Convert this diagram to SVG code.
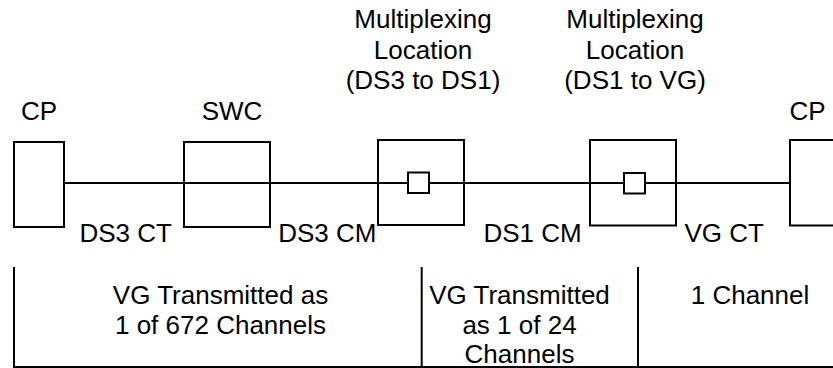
<svg xmlns="http://www.w3.org/2000/svg" width="833" height="368" viewBox="0 0 833 368">
<style>
  .box { fill: #ffffff; stroke: #000000; stroke-width: 2; }
  .ln { fill: none; stroke: #000000; stroke-width: 2; }
  text { font-family: "Liberation Sans", Arial, sans-serif; font-size: 26px; fill: #000000; }
  .c { text-anchor: middle; }
</style>
<rect width="833" height="368" fill="#ffffff"/>
<g id="connectors">
  <line class="ln" x1="64" y1="183" x2="408" y2="183"/>
  <line class="ln" x1="429" y1="183" x2="624" y2="183"/>
  <line class="ln" x1="645" y1="183" x2="790" y2="183"/>
</g>
<g id="cp-left">
  <rect class="box" x="14" y="142" width="50" height="85"/>
  <text class="c" x="39" y="120">CP</text>
</g>
<g id="swc">
  <rect class="box" x="184" y="142" width="86" height="85" fill="none" style="fill:none"/>
  <text class="c" x="232" y="119.5">SWC</text>
</g>
<g id="mux1">
  <rect class="box" x="378" y="140" width="86" height="85" style="fill:none"/>
  <rect class="box" x="408" y="172.5" width="21" height="20.5"/>
  <text class="c" x="423" y="28">Multiplexing</text>
  <text class="c" x="423" y="58.5">Location</text>
  <text class="c" x="423" y="88.5">(DS3 to DS1)</text>
</g>
<g id="mux2">
  <rect class="box" x="590" y="140" width="86" height="85.5" style="fill:none"/>
  <rect class="box" x="624" y="173" width="21" height="20.5"/>
  <text class="c" x="635" y="28">Multiplexing</text>
  <text class="c" x="635" y="58.5">Location</text>
  <text class="c" x="635" y="88.5">(DS1 to VG)</text>
</g>
<g id="cp-right">
  <rect class="box" x="790" y="140" width="60" height="85.5"/>
  <text class="c" x="807.5" y="120">CP</text>
</g>
<g id="labels">
  <text x="79.5" y="241.5">DS3 CT</text>
  <text x="376.5" y="241.5" text-anchor="end">DS3 CM</text>
  <text x="483.5" y="241.5">DS1 CM</text>
  <text x="684.5" y="241.5">VG CT</text>
</g>
<g id="segments">
  <line class="ln" x1="14" y1="267" x2="14" y2="367"/>
  <line class="ln" x1="421.7" y1="267" x2="421.7" y2="367"/>
  <line class="ln" x1="638" y1="267" x2="638" y2="367"/>
  <line class="ln" x1="13" y1="367" x2="833" y2="367"/>
  <text class="c" x="220.5" y="304">VG Transmitted as</text>
  <text class="c" x="220.5" y="333.5">1 of 672 Channels</text>
  <text class="c" x="519.5" y="304">VG Transmitted</text>
  <text class="c" x="519.5" y="333.5">as 1 of 24</text>
  <text class="c" x="519.5" y="363">Channels</text>
  <text class="c" x="750" y="303.5">1 Channel</text>
</g>
</svg>
